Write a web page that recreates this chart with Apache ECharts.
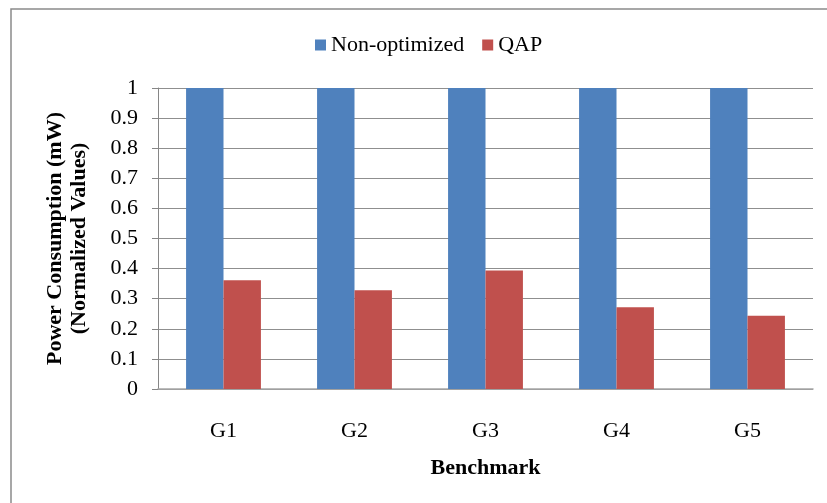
<!DOCTYPE html>
<html>
<head>
<meta charset="utf-8">
<script src="https://cdn.jsdelivr.net/npm/echarts@6/dist/echarts.min.js"></script>
<style>
  html, body { margin: 0; padding: 0; background: #ffffff; }
  #chart { width: 827px; height: 503px; }
</style>
</head>
<body>
<div id="chart"></div>
<script>
// Benchmarks and normalized power consumption per configuration
var categories = ['G1', 'G2', 'G3', 'G4', 'G5'];
var nonOptimized = [1, 1, 1, 1, 1];
var qap = [0.361, 0.328, 0.394, 0.272, 0.243];
var seriesNames = ['Non-optimized', 'QAP'];

var serif = '"Liberation Serif", "Times New Roman", serif';
var chart = echarts.init(document.getElementById('chart'));

chart.setOption({
  backgroundColor: '#ffffff',
  animation: false,
  textStyle: { fontFamily: serif },
  graphic: [{
    // left and top edges of the chart frame
    type: 'polyline',
    shape: { points: [[11, 520], [11, 9], [840, 9]] },
    style: { fill: null, stroke: '#8a8a8a', lineWidth: 1.5 },
    silent: true
  }],
  legend: {
    left: 310, top: 29,
    itemWidth: 11, itemHeight: 11, itemGap: 18,
    icon: 'rect',
    textStyle: { fontFamily: serif, fontSize: 22, color: '#000' },
    data: seriesNames
  },
  grid: { left: 158, right: 14, top: 88, bottom: 114 },
  xAxis: {
    type: 'category',
    data: categories,
    name: 'Benchmark',
    nameLocation: 'middle',
    nameGap: 68,
    nameTextStyle: { fontFamily: serif, fontSize: 22, fontWeight: 'bold', color: '#000', verticalAlign: 'top' },
    axisLine: { lineStyle: { color: '#a6a6a6', width: 1.5 } },
    axisTick: { show: false },
    axisLabel: { margin: 31, fontFamily: serif, fontSize: 22, color: '#000' }
  },
  yAxis: {
    type: 'value',
    min: 0, max: 1, interval: 0.1,
    name: 'Power Consumption (mW)\n(Normalized Values)',
    nameLocation: 'middle',
    nameRotate: 90,
    nameGap: 67,
    nameTextStyle: { fontFamily: serif, fontSize: 22, fontWeight: 'bold', color: '#000', lineHeight: 24 },
    axisLine: { show: true, lineStyle: { color: '#868686', width: 1 } },
    axisTick: { show: true, length: 6, lineStyle: { color: '#868686' } },
    axisLabel: { margin: 20, fontFamily: serif, fontSize: 22, color: '#000' },
    splitLine: { lineStyle: { color: '#8f8f8f', width: 1.2 } }
  },
  series: [
    {
      name: seriesNames[0], type: 'bar', data: nonOptimized,
      barGap: '0%', barCategoryGap: '42.86%',
      itemStyle: { color: '#4F81BD' }
    },
    {
      name: seriesNames[1], type: 'bar', data: qap,
      barGap: '0%', barCategoryGap: '42.86%',
      itemStyle: { color: '#C0504D' }
    }
  ]
});
</script>
</body>
</html>
